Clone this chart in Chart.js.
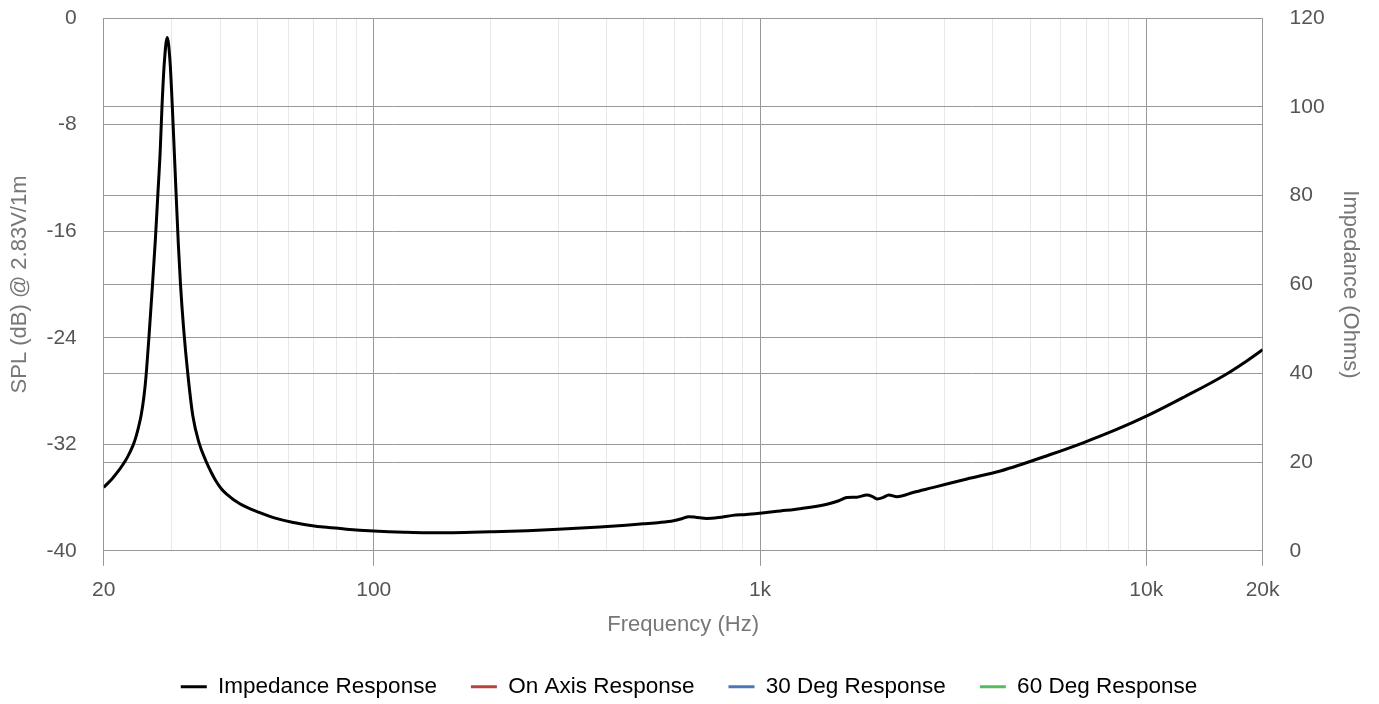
<!DOCTYPE html>
<html>
<head>
<meta charset="utf-8">
<script src="https://cdn.jsdelivr.net/npm/chart.js@4.4.0/dist/chart.umd.min.js"></script>
<style>
  html, body { margin: 0; padding: 0; background: #fff; }
  #wrap { width: 1379px; height: 704px; }
</style>
</head>
<body>
<div id="wrap"><canvas id="chart"></canvas></div>
<script>
// impedance curve (Hz, Ohms)
const freqs = [20, 21, 22, 22.4, 23, 23.8, 24.2, 24.6, 25, 25.4, 25.7, 26.2, 26.7, 27.2, 27.6, 28, 28.3, 28.7, 29.2, 29.7, 30.1, 30.45, 30.8, 31.2, 31.6, 32.2, 33, 34, 35.25, 36.75, 38, 39, 40.3, 41.6, 45, 50.7, 55, 61.9, 68, 75.5, 85, 100, 120, 137, 160, 200, 250, 300, 385, 450, 499, 550, 597, 630, 653, 680, 728, 780, 850, 920, 1000, 1130, 1271, 1490, 1600, 1679, 1780, 1892, 1950, 2009, 2080, 2155, 2263, 2500, 2815, 3434, 4191, 5646, 6888, 8410, 10100, 12500, 15900, 18000, 20000];
const impedance = [14.3, 16.2, 18.4, 19.4, 21, 23.7, 25.5, 27.8, 30.6, 34.6, 38.8, 48.5, 59, 70, 80, 90, 100, 110, 115.6, 110, 100, 90, 80, 69, 60, 50, 40, 30.5, 24.5, 20.3, 17.6, 15.8, 14, 12.8, 10.6, 8.6, 7.5, 6.4, 5.8, 5.3, 4.9, 4.5, 4.2, 4.08, 4.1, 4.3, 4.55, 4.85, 5.4, 5.8, 6.1, 6.4, 6.8, 7.3, 7.7, 7.6, 7.3, 7.5, 8.0, 8.2, 8.5, 9.0, 9.5, 10.5, 11.3, 12.0, 12.1, 12.6, 12.3, 11.7, 12.0, 12.6, 12.2, 13.2, 14.3, 16.2, 18.0, 21.7, 24.4, 27.4, 30.5, 34.6, 39.5, 42.5, 45.3];

// SPL series are empty in this chart
const onAxis = [];
const deg30 = [];
const deg60 = [];

const seriesNames = ['Impedance Response', 'On Axis Response', '30 Deg Response', '60 Deg Response'];
const seriesColors = ['#000000', '#b8433c', '#4a78b8', '#55bb5e'];

const xTicks = [20, 30, 40, 50, 60, 70, 80, 90, 100, 200, 300, 400, 500, 600, 700, 800, 900, 1000, 2000, 3000, 4000, 5000, 6000, 7000, 8000, 9000, 10000, 20000];
const xLabels = { 20: '20', 100: '100', 1000: '1k', 10000: '10k', 20000: '20k' };

const family = '"Liberation Sans", Arial, sans-serif';
const tickFont = { family, size: 21 };
const titleFont = { family, size: 22 };
const legendFont = { family, size: 22.5 };
const isMajor = (v) => xLabels[v] !== undefined;
const isTick = (v) => xTicks.includes(v);

function gridColor(c) {
  const v = c.tick && c.tick.value;
  if (isMajor(v)) return '#999';
  return isTick(v) ? '#e8e8e8' : 'rgba(0,0,0,0)';
}

const ctx = document.getElementById('chart');
new Chart(ctx, {
  type: 'line',
  data: {
    datasets: [
      {
        label: seriesNames[0],
        data: freqs.map((f, i) => ({ x: f, y: impedance[i] })),
        yAxisID: 'yR',
        borderColor: seriesColors[0],
        backgroundColor: seriesColors[0],
        borderWidth: 3,
        pointRadius: 0,
        cubicInterpolationMode: 'monotone',
      },
      { label: seriesNames[1], data: onAxis, yAxisID: 'yL', borderColor: seriesColors[1], backgroundColor: seriesColors[1], pointRadius: 0 },
      { label: seriesNames[2], data: deg30, yAxisID: 'yL', borderColor: seriesColors[2], backgroundColor: seriesColors[2], pointRadius: 0 },
      { label: seriesNames[3], data: deg60, yAxisID: 'yL', borderColor: seriesColors[3], backgroundColor: seriesColors[3], pointRadius: 0 },
    ],
  },
  options: {
    responsive: true,
    maintainAspectRatio: false,
    animation: false,
    layout: { padding: { top: 18, left: 3, right: 4, bottom: -4 } },
    plugins: {
      tooltip: { enabled: false },
      legend: {
        position: 'bottom',
        labels: {
          font: legendFont,
          color: '#444',
          boxWidth: 26,
          boxHeight: 3,
          padding: 34,
          generateLabels: (chart) =>
            chart.data.datasets.map((ds, i) => ({
              text: ds.label,
              fillStyle: ds.borderColor,
              strokeStyle: ds.borderColor,
              lineWidth: 0,
              datasetIndex: i,
            })),
        },
      },
    },
    scales: {
      x: {
        type: 'logarithmic',
        min: 20,
        max: 20000,
        afterBuildTicks: (axis) => {
          axis.ticks = xTicks.map((v) => ({ value: v }));
        },
        ticks: {
          autoSkip: false,
          maxRotation: 0,
          padding: 12,
          font: tickFont,
          color: '#555',
          callback: (v) => xLabels[v] || '',
        },
        grid: {
          color: gridColor,
          tickColor: (c) => (isMajor(c.tick && c.tick.value) ? '#999' : 'rgba(0,0,0,0)'),
          tickLength: 15,
        },
        border: { color: '#999' },
        title: { display: true, text: 'Frequency (Hz)', font: titleFont, color: '#777', padding: { top: -3, bottom: 3 } },
      },
      yL: {
        position: 'left',
        min: -40,
        max: 0,
        ticks: { stepSize: 8, font: tickFont, color: '#555', padding: 0 },
        grid: { color: '#999', tickLength: 27, tickColor: 'rgba(0,0,0,0)' },
        border: { color: '#999' },
        title: { display: true, text: 'SPL (dB) @ 2.83V/1m', font: titleFont, color: '#777', padding: { top: 4, bottom: 13 } },
      },
      yR: {
        position: 'right',
        min: 0,
        max: 120,
        ticks: { stepSize: 20, font: tickFont, color: '#555', padding: 0 },
        grid: { color: '#999', tickLength: 27, tickColor: 'rgba(0,0,0,0)' },
        border: { color: '#999' },
        title: { display: true, text: 'Impedance (Ohms)', font: titleFont, color: '#777', padding: { top: 12, bottom: 12 } },
      },
    },
  },
});
</script>
</body>
</html>
